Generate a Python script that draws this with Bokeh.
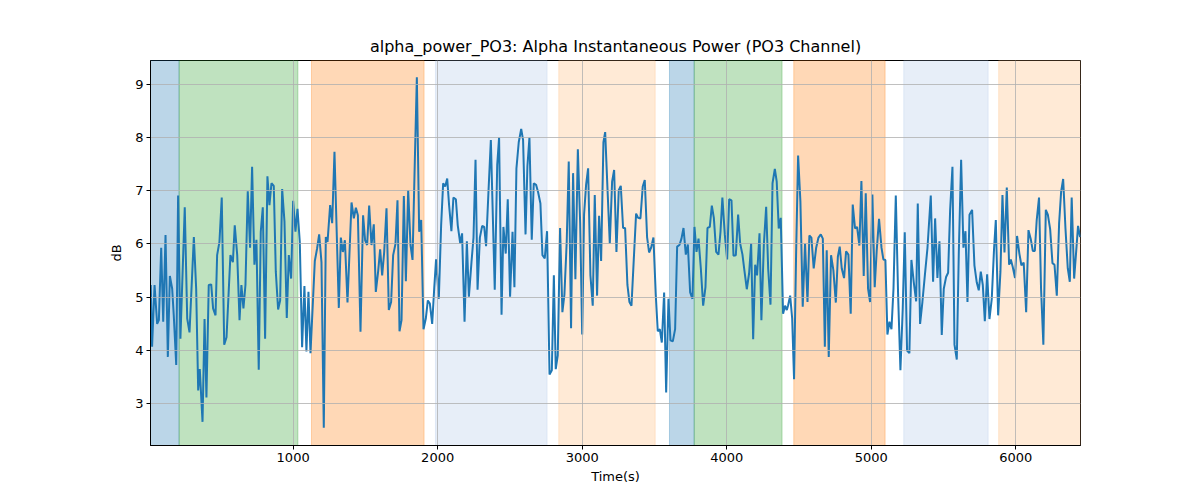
from bokeh.plotting import figure
from bokeh.models import BoxAnnotation, FixedTicker, Range1d
from bokeh.embed import file_html
from bokeh.resources import INLINE

# time (s) and alpha power (dB)
time_s = [
    15, 24, 41, 59, 71, 87, 101, 117, 133, 147, 163, 174, 191, 204, 220, 250, 267, 283, 313, 329,
    343, 354, 373, 387, 400, 416, 433, 446, 463, 474, 490, 506, 523, 539, 566, 583, 596, 613, 629, 642,
    656, 670, 686, 702, 716, 732, 746, 762, 776, 790, 806, 822, 836, 850, 866, 880, 896, 910, 924, 940,
    956, 970, 986, 1000, 1016, 1030, 1046, 1062, 1078,
    1092, 1106, 1120, 1150, 1166, 1180, 1196, 1212, 1226, 1238, 1256, 1270, 1286, 1316, 1330, 1344,
    1358, 1376, 1404, 1420, 1434, 1448, 1466, 1484, 1498, 1512, 1526, 1542, 1558, 1572, 1588, 1602,
    1616, 1630, 1646, 1662, 1678, 1692, 1708, 1722, 1736, 1750, 1766, 1780, 1796, 1812, 1826, 1842,
    1856, 1872, 1886, 1902, 1918, 1932, 1946, 1962, 1976, 1989, 2008, 2024, 2038, 2052, 2066, 2079,
    2095, 2109,
    2126, 2139, 2156, 2169, 2186, 2202, 2216, 2234, 2248, 2262, 2276, 2292, 2308, 2322, 2335, 2352,
    2368, 2395, 2412, 2425, 2442, 2455, 2471, 2485, 2501, 2518, 2531, 2545, 2561, 2578, 2591, 2608,
    2621, 2635, 2651, 2665, 2681, 2695, 2711, 2725, 2741, 2757, 2774, 2790, 2804, 2817, 2831, 2847,
    2863, 2877, 2893, 2907, 2923, 2937, 2953, 2970, 2986, 3000, 3013, 3027, 3041, 3057, 3073, 3087,
    3103, 3117, 3131, 3147, 3159,
    3175, 3191, 3207, 3221, 3237, 3253, 3267, 3283, 3297, 3313, 3327, 3341, 3357, 3373, 3387, 3403,
    3419, 3433, 3449, 3463, 3477, 3493, 3509, 3523, 3537, 3551, 3567, 3581, 3597, 3611, 3627, 3643,
    3657, 3673, 3687, 3701, 3717, 3731, 3747, 3763, 3777, 3791, 3805, 3821, 3837, 3853, 3867, 3883,
    3897, 3911, 3927, 3943, 3957, 3970, 3987, 4003, 4017, 4033, 4047, 4063, 4079, 4093, 4109, 4123,
    4139, 4155, 4169, 4183,
    4197, 4210, 4227, 4240, 4257, 4273, 4287, 4303, 4317, 4333, 4346, 4360, 4374, 4390, 4404, 4416,
    4425, 4439, 4453, 4466, 4480, 4494, 4510, 4526, 4542, 4559, 4572, 4586, 4602, 4619, 4635, 4651,
    4665, 4679, 4692, 4706, 4722, 4738, 4755, 4769, 4782, 4796, 4812, 4826, 4842, 4858, 4872, 4888,
    4902, 4918, 4932, 4948, 4962, 4978, 4992, 5008, 5024, 5038, 5054, 5071, 5084, 5098, 5112, 5126,
    5140, 5154, 5170, 5186, 5202,
    5218, 5232, 5248, 5264, 5278, 5294, 5311, 5322, 5338, 5354, 5371, 5389, 5412, 5428, 5442, 5458,
    5472, 5488, 5502, 5518, 5532, 5546, 5562, 5576, 5592, 5606, 5622, 5638, 5652, 5666, 5680, 5698,
    5714, 5730, 5744, 5758, 5772, 5786, 5802, 5818, 5834, 5850, 5862, 5878, 5894, 5908, 5922, 5938,
    5954, 5966, 5979, 5995, 6009, 6025, 6039, 6055, 6072, 6088, 6104, 6118, 6132, 6145, 6161, 6175,
    6191, 6208, 6222, 6238, 6254, 6268, 6284, 6300, 6314, 6328, 6344, 6360, 6374, 6387, 6404, 6417,
    6431, 6445,
]
power_db = [
    5.23, 4.07, 5.23, 4.50, 4.57, 5.93, 4.54, 6.17, 3.88, 5.40, 5.16, 4.66, 3.73, 6.91, 4.22, 6.69, 4.60, 4.34, 6.13, 5.16,
    3.25, 3.65, 2.66, 4.59, 3.12, 5.23, 5.24, 4.79, 4.66, 5.79, 6.04, 6.87, 4.11, 4.25, 5.79, 5.66, 6.35, 5.79, 4.57, 5.23,
    4.79, 5.23, 6.99, 5.93, 7.45, 5.61, 6.08, 3.64, 6.23, 6.69, 4.22, 7.27, 6.73, 7.14, 7.09, 5.48, 4.77, 4.94, 7.03, 6.42,
    4.61, 5.79, 5.35, 6.81, 6.23, 6.66, 6.04, 4.06, 5.21,
    3.98, 5.10, 3.95, 5.68, 5.92, 6.18, 5.66, 2.55, 6.13, 6.04, 6.73, 6.39, 7.73, 4.80, 6.12, 5.85,
    6.07, 4.90, 6.78, 6.48, 6.68, 6.54, 4.35, 6.54, 6.07, 5.98, 6.72, 5.98, 6.37, 5.10, 5.48, 5.90,
    5.41, 5.85, 6.67, 4.76, 4.91, 5.79, 6.00, 6.82, 4.36, 4.57, 6.90, 5.30, 7.01, 5.98, 5.70, 7.56,
    9.13, 6.23, 6.45, 4.40, 4.60, 4.94, 4.88, 4.50, 5.16, 5.71, 4.97, 6.35, 7.14, 7.08, 7.23, 6.73,
    6.24, 6.87,
    6.84, 6.35, 6.01, 6.20, 4.54, 6.05, 5.01, 5.66, 6.12, 7.58, 5.14, 6.12, 6.34, 6.32, 5.96, 7.01,
    7.95, 5.14, 7.48, 8.00, 4.67, 6.32, 5.82, 6.84, 5.01, 6.23, 5.19, 7.42, 7.91, 8.16, 7.95, 6.18,
    7.46, 8.00, 6.08, 7.14, 7.11, 6.97, 6.76, 5.79, 5.73, 6.24, 3.55, 3.63, 5.41, 3.65, 3.91, 6.30,
    4.72, 5.05, 6.04, 7.55, 4.42, 7.33, 5.34, 7.78, 6.39, 4.30, 6.55, 7.11, 7.42, 5.41, 4.84, 6.92,
    5.03, 6.53, 5.68, 7.91, 8.10,
    7.04, 6.01, 7.17, 7.39, 5.85, 7.01, 7.09, 6.30, 6.30, 5.23, 4.91, 4.84, 5.71, 6.57, 6.49, 6.48,
    7.08, 7.20, 6.13, 5.84, 5.93, 6.12, 5.05, 4.36, 4.40, 4.15, 5.09, 3.21, 4.97, 4.19, 4.17, 4.40,
    5.95, 5.98, 6.10, 6.30, 5.80, 5.99, 5.09, 4.97, 6.32, 5.85, 6.10, 5.54, 4.84, 5.19, 6.30, 6.32,
    6.72, 6.49, 5.85, 5.80, 6.23, 6.87, 6.17, 5.71, 6.84, 6.82, 5.78, 5.79, 6.55, 6.01, 5.80, 5.49,
    5.15, 5.45, 6.01, 4.21,
    5.61, 5.41, 6.20, 4.57, 5.99, 6.70, 5.53, 4.86, 7.14, 7.41, 7.17, 6.29, 6.49, 4.69, 4.84, 4.76,
    4.85, 5.03, 4.60, 3.46, 5.79, 7.66, 6.79, 4.82, 6.01, 4.91, 6.16, 6.12, 5.54, 5.93, 6.12, 6.18,
    6.10, 4.07, 5.88, 3.88, 5.79, 5.51, 4.90, 5.76, 5.95, 5.54, 5.36, 5.86, 5.80, 4.69, 6.74, 6.29,
    6.32, 5.97, 7.18, 5.40, 6.95, 5.16, 4.91, 6.93, 5.19, 5.88, 6.47, 5.93, 5.71, 5.70, 4.30, 4.54,
    4.40, 5.16, 6.91, 5.04, 3.63,
    4.79, 6.22, 4.00, 3.95, 5.70, 5.29, 4.92, 6.76, 4.50, 4.91, 5.41, 5.92, 6.91, 5.29, 6.48, 5.36,
    6.05, 4.29, 5.16, 5.38, 5.46, 6.64, 7.45, 4.11, 3.83, 5.85, 7.58, 5.93, 6.24, 4.91, 6.55, 6.64,
    5.60, 5.28, 5.13, 5.48, 5.23, 4.55, 5.43, 4.59, 4.97, 5.92, 6.45, 4.66, 5.48, 6.92, 5.84, 7.06,
    5.61, 5.71, 5.57, 5.36, 6.15, 5.82, 5.60, 5.65, 4.72, 6.26, 6.09, 5.87, 5.87, 6.45, 6.87, 5.16,
    4.11, 6.64, 6.55, 6.28, 5.64, 5.61, 5.03, 6.39, 6.98, 7.22, 6.29, 5.54, 5.29, 6.87, 5.35, 5.82,
    6.34, 6.13,
]

# shaded stage intervals
span_start = [13, 211, 1127, 1985, 2838, 3604, 3775, 4464, 5225, 5882]
span_end = [211, 1033, 1906, 2757, 3505, 3775, 4383, 5096, 5809, 6448]
span_color = ["#1f77b4", "#2ca02c", "#ff7f0e", "#aec7e8", "#ffbb78",
              "#1f77b4", "#2ca02c", "#ff7f0e", "#aec7e8", "#ffbb78"]

x_ticks = [1000, 2000, 3000, 4000, 5000, 6000]
y_ticks = [3, 4, 5, 6, 7, 8, 9]

FONT = "DejaVu Sans"

p = figure(frame_width=930, frame_height=385, output_backend="svg", toolbar_location=None,
           x_range=Range1d(13, 6448), y_range=Range1d(2.216, 9.445),
           min_border_left=150, min_border_right=110, min_border_top=60, min_border_bottom=36,
           title="alpha_power_PO3: Alpha Instantaneous Power (PO3 Channel)")

p.title.align = "center"
p.title.text_font = FONT
p.title.text_font_size = "16px"
p.title.text_font_style = "normal"
p.title.text_color = "black"

for s, e, c in zip(span_start, span_end, span_color):
    box = BoxAnnotation(left=s, right=e, fill_color=c, fill_alpha=0.3,
                        line_color=c, line_alpha=0.3, line_width=1, level="underlay")
    p.add_layout(box)

p.line(time_s, power_db, line_color="#1f77b4", line_width=2)

p.outline_line_color = "black"
p.outline_line_width = 1
p.background_fill_color = "white"
p.border_fill_color = "white"

p.xgrid.ticker = FixedTicker(ticks=x_ticks)
p.ygrid.ticker = FixedTicker(ticks=y_ticks)
for g in (p.xgrid, p.ygrid):
    g.grid_line_color = "#b0b0b0"
    g.grid_line_width = 0.8
    g.level = "glyph"

p.xaxis.ticker = FixedTicker(ticks=x_ticks)
p.yaxis.ticker = FixedTicker(ticks=y_ticks)
p.xaxis.axis_label = "Time(s)"
p.yaxis.axis_label = "dB"
for ax in (p.xaxis, p.yaxis):
    ax.axis_line_color = "black"
    ax.major_tick_line_color = "black"
    ax.major_tick_out = 4
    ax.major_tick_in = 0
    ax.minor_tick_line_color = None
    ax.major_label_standoff = 3
    ax.major_label_text_font = FONT
    ax.major_label_text_font_size = "13px"
    ax.major_label_text_color = "black"
    ax.axis_label_text_font = FONT
    ax.axis_label_text_font_size = "13px"
    ax.axis_label_text_font_style = "normal"
    ax.axis_label_text_color = "black"
p.xaxis.axis_label_standoff = 4
p.yaxis.axis_label_standoff = 8
p.yaxis.major_label_orientation = "horizontal"

open("out.html", "w").write(file_html(p, INLINE))
